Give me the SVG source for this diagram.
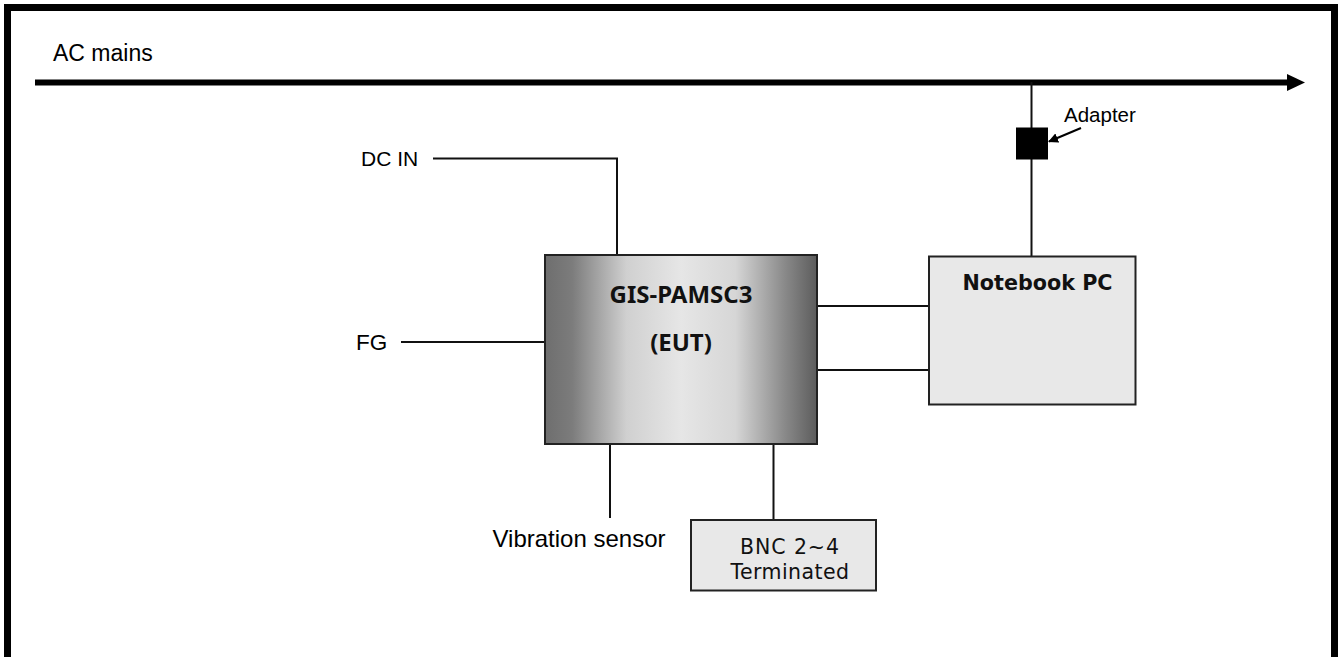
<svg xmlns="http://www.w3.org/2000/svg" width="1341" height="657" viewBox="0 0 1341 657">
<style>
.lbl{font-family:"Liberation Sans",Arial,sans-serif;fill:#000}
.ln{stroke:#111;stroke-width:2;fill:none}
.box{stroke:#222;stroke-width:2}
.bnc{font-family:"DejaVu Sans",sans-serif;font-size:20.5px;fill:#111}
</style>
<defs>
<linearGradient id="eutGrad" x1="0" y1="0" x2="1" y2="0">
<stop offset="0" stop-color="#6e6e6e"/>
<stop offset="0.1" stop-color="#7c7c7c"/>
<stop offset="0.3" stop-color="#d0d0d0"/>
<stop offset="0.5" stop-color="#e6e6e6"/>
<stop offset="0.7" stop-color="#d6d6d6"/>
<stop offset="0.88" stop-color="#8a8a8a"/>
<stop offset="1" stop-color="#5c5c5c"/>
</linearGradient>
<marker id="adArrow" markerWidth="10" markerHeight="10" refX="9" refY="5" orient="auto" markerUnits="userSpaceOnUse">
<path d="M0,0 L10,5 L0,10 z" fill="#000"/>
</marker>
</defs>
<rect x="0" y="0" width="1341" height="657" fill="#fff"/>
<rect x="7.5" y="7.5" width="1327" height="700" fill="none" stroke="#000" stroke-width="7"/>

<g id="connectors">
<line x1="35" y1="82.5" x2="1288" y2="82.5" stroke="#000" stroke-width="6"/>
<polygon points="1287,74 1305,82.5 1287,91" fill="#000"/>
<line class="ln" x1="1031.5" y1="82" x2="1031.5" y2="256"/>
<polyline class="ln" points="433,158.5 617,158.5 617,254"/>
<line class="ln" x1="401" y1="342" x2="545" y2="342"/>
<line class="ln" x1="817" y1="306" x2="929" y2="306"/>
<line class="ln" x1="817" y1="370" x2="929" y2="370"/>
<line class="ln" x1="610" y1="444" x2="610" y2="518"/>
<line class="ln" x1="773.5" y1="444" x2="773.5" y2="520"/>
<line x1="1081" y1="128" x2="1049" y2="141.5" stroke="#000" stroke-width="2" marker-end="url(#adArrow)"/>
</g>

<g id="ac-mains">
<text class="lbl" x="53" y="61" font-size="23">AC mains</text>
</g>

<g id="adapter">
<rect x="1016" y="127.5" width="32" height="32" fill="#000"/>
<text class="lbl" x="1064" y="121.5" font-size="20.5">Adapter</text>
</g>

<g id="dc-in">
<text class="lbl" x="361" y="165.5" font-size="21">DC IN</text>
</g>

<g id="fg">
<text class="lbl" x="356" y="350" font-size="22.5">FG</text>
</g>

<g id="eut">
<rect class="box" x="545" y="255" width="272" height="189" fill="url(#eutGrad)"/>
<text x="681" y="303" font-family="'Noto Sans','Open Sans',sans-serif" font-weight="bold" font-size="24" text-anchor="middle" fill="#111">GIS-PAMSC3</text>
<text x="681" y="350.5" font-family="'Noto Sans','Open Sans',sans-serif" font-weight="bold" font-size="24" text-anchor="middle" fill="#111">(EUT)</text>
</g>

<g id="notebook">
<rect class="box" x="929" y="256.5" width="206.5" height="148" fill="#e8e8e8"/>
<text x="1037.5" y="290" font-family="'DejaVu Sans',sans-serif" font-weight="bold" font-size="20.7" text-anchor="middle" fill="#111">Notebook PC</text>
</g>

<g id="vibration">
<text class="lbl" x="492.5" y="546.5" font-size="24">Vibration sensor</text>
</g>

<g id="bnc">
<rect class="box" x="691" y="520" width="185" height="70.5" fill="#e8e8e8"/>
<text class="bnc" x="740" y="553.5" textLength="99" lengthAdjust="spacing">BNC 2~4</text>
<text class="bnc" x="730.5" y="579" textLength="118.5" lengthAdjust="spacing">Terminated</text>
</g>
</svg>
